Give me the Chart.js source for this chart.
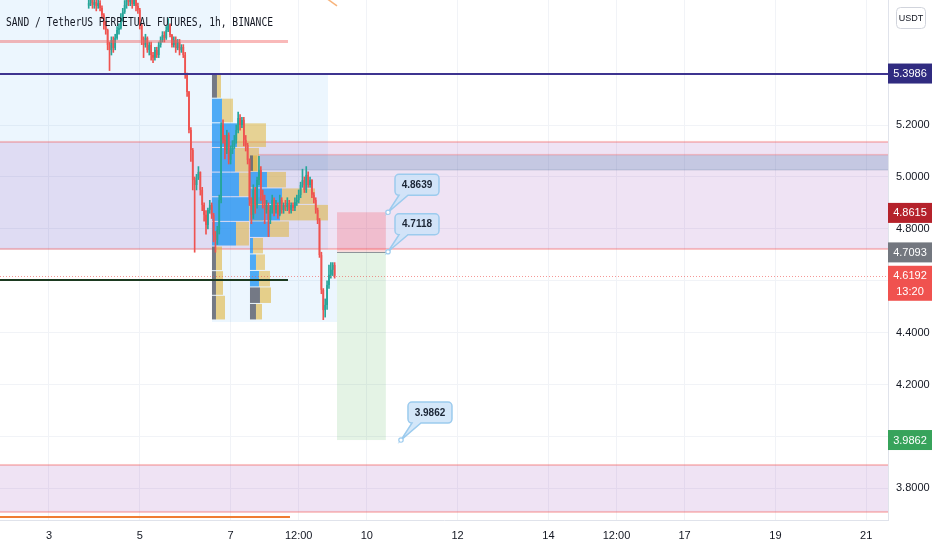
<!DOCTYPE html>
<html>
<head>
<meta charset="utf-8">
<script src="https://cdn.jsdelivr.net/npm/chart.js@4.4.0/dist/chart.umd.min.js"></script>
<style>
html, body { margin: 0; padding: 0; background: #fff; }
canvas { display: block; }
</style>
</head>
<body>
<canvas id="chart" width="932" height="550"></canvas>
<script>
// SAND/USDT perp, 1h candles, day-of-month on the x axis
var FIRST_CANDLE = 3.875   // day 3, 21:00
var FIRST_OPEN = 5.660

var closes = [
    5.670,5.682,5.663,5.674,5.659,5.670,5.651,5.624,5.586,5.566,
    5.509,5.489,5.528,5.497,5.536,5.566,5.574,5.613,5.636,5.663,
    5.682,5.674,5.690,5.667,5.682,5.659,5.644,5.586,5.528,5.509,
    5.536,5.489,5.509,5.470,5.459,5.489,5.470,5.509,5.528,5.547,
    5.536,5.566,5.586,5.547,5.509,5.528,5.497,5.520,5.489,5.501,
    5.470,5.393,5.327,5.181,5.104,4.988,4.969,4.996,5.019,4.950,
    4.892,4.854,4.815,4.873,4.892,4.854,4.776,4.757,4.796,4.911,
    5.200,5.143,5.104,5.162,5.066,5.104,5.123,5.143,5.181,5.227,
    5.200,5.220,5.143,5.123,5.066,4.911,4.854,4.950,4.892,4.988,
    5.027,4.931,4.911,4.873,4.892,4.834,4.873,4.911,4.873,4.892,
    4.854,4.911,4.873,4.892,4.884,4.900,4.873,4.892,4.880,4.904,
    4.911,4.931,4.969,4.988,4.950,5.008,4.969,4.988,4.931,4.911,
    4.873,4.834,4.699,4.565,4.487,4.507,4.584,4.623,4.642,4.661,
    4.6192
]
var highs = [
    5.70,5.71,5.70,5.69,5.69,5.69,5.68,5.66,5.63,5.60,
    5.57,5.52,5.54,5.54,5.55,5.58,5.59,5.63,5.65,5.68,
    5.70,5.71,5.72,5.70,5.70,5.69,5.67,5.65,5.59,5.54,
    5.55,5.54,5.52,5.52,5.48,5.50,5.50,5.52,5.54,5.56,
    5.56,5.58,5.61,5.59,5.55,5.54,5.54,5.53,5.53,5.51,
    5.51,5.48,5.40,5.33,5.19,5.11,5.00,5.01,5.04,5.02,
    4.96,4.90,4.87,4.88,4.91,4.90,4.86,4.79,4.81,4.93,
    5.21,5.22,5.16,5.18,5.17,5.12,5.14,5.16,5.20,5.25,
    5.24,5.23,5.23,5.16,5.13,5.07,4.92,4.97,4.96,5.00,
    5.08,5.04,4.95,4.93,4.91,4.90,4.89,4.93,4.92,4.91,
    4.90,4.93,4.92,4.90,4.91,4.92,4.91,4.90,4.90,4.92,
    4.93,4.95,4.98,5.03,5.00,5.04,5.02,5.00,4.99,4.94,
    4.92,4.88,4.84,4.71,4.57,4.53,4.60,4.66,4.67,4.67,
    4.67
]
var lows = [
    5.65,5.66,5.65,5.65,5.64,5.65,5.64,5.61,5.57,5.55,
    5.49,5.41,5.47,5.48,5.49,5.53,5.55,5.57,5.60,5.63,
    5.65,5.66,5.66,5.65,5.66,5.64,5.63,5.57,5.51,5.46,
    5.50,5.48,5.47,5.45,5.44,5.45,5.46,5.46,5.50,5.52,
    5.52,5.53,5.56,5.54,5.50,5.50,5.48,5.49,5.47,5.48,
    5.46,5.38,5.31,5.17,5.06,4.95,4.71,4.95,4.99,4.93,
    4.87,4.83,4.78,4.80,4.86,4.84,4.75,4.71,4.74,4.78,
    4.90,5.13,5.07,5.09,5.05,5.05,5.09,5.11,5.13,5.17,
    5.18,5.19,5.12,5.10,5.05,4.89,4.82,4.84,4.86,4.88,
    4.97,4.91,4.88,4.82,4.86,4.77,4.82,4.86,4.85,4.86,
    4.84,4.85,4.86,4.86,4.87,4.87,4.86,4.86,4.87,4.87,
    4.89,4.90,4.92,4.96,4.94,4.94,4.96,4.96,4.92,4.90,
    4.86,4.82,4.69,4.55,4.45,4.46,4.49,4.57,4.61,4.62,
    4.61
]

// axes
var xTickDays = [3, 5, 7, 8.5, 10, 12, 14, 15.5, 17, 19, 21]
var xTickLabels = ['3', '5', '7', '12:00', '10', '12', '14', '12:00', '17', '19', '21']
var yTicks = [3.8, 4.0, 4.2, 4.4, 4.6, 4.8, 5.0, 5.2, 5.4]

// volume profiles (top price, bottom price, anchor day, rows from top)
var vp1Range = [5.3986, 4.449]
var vp1Start = 6.590
var vp1Up = [5, 10, 25, 23, 27, 37, 24, 4, 4, 4]
var vp1Down = [4, 11, 29, 24, 12, 14, 13, 6, 7, 9]
var vp1InVA = [0, 1, 1, 1, 1, 1, 1, 0, 0, 0]

var vp2Range = [5.085, 4.449]
var vp2Start = 7.427
var vp2Up = [3, 17, 32, 30, 20, 3, 6, 9, 10, 6]
var vp2Down = [4, 19, 33, 48, 19, 10, 9, 11, 11, 6]
var vp2InVA = [0, 1, 1, 1, 1, 1, 1, 1, 0, 0]

// drawings: [dayFrom, dayTo, priceTop, priceBottom]
var rangeShades = [[1.9, 6.767, 5.72, 5.393], [1.9, 9.145, 5.393, 4.719], [6.590, 9.344, 4.719, 4.441]]
var zones = [[5.135, 4.7225], [3.890, 3.709]]
var steelBox = [7.603, 22, 5.085, 5.027]

var position = { from: 9.344, to: 10.42, stop: 4.8639, entry: 4.7118, target: 3.9862 }
var callouts = [[10.467, 4.8639], [10.467, 4.7118], [10.753, 3.9862]]

var level = 5.3986
var lastPrice = 4.6192
var pinkLine = [8.264, 5.524]
var darkLine = [8.264, 4.603]
var orangeLine = [8.308, 3.690]
var orangeRay = [[9.10, 5.69], [9.344, 5.659]]

var tags = [
    { price: 5.3986, text: '5.3986', color: '#302b80' },
    { price: 4.8615, text: '4.8615', color: '#b5222b' },
    { price: 4.7093, text: '4.7093', color: '#73777f' },
    { price: 4.6192, text: '4.6192', sub: '13:20', color: '#f0524f' },
    { price: 3.9862, text: '3.9862', color: '#37a35b' },
]

var TITLE = 'SAND / TetherUS PERPETUAL FUTURES, 1h, BINANCE'
var UP = '#26a69a'
var DOWN = '#ef5350'
var FONT = '"Liberation Sans", "DejaVu Sans", sans-serif'
var VP_DAYS_PER_UNIT = 1 / 45.4

var times = closes.map(function(c, i){ return FIRST_CANDLE + i / 24 })
var opens = closes.map(function(c, i){ return i === 0 ? FIRST_OPEN : closes[i - 1] })
var candleColors = closes.map(function(c, i){ return c >= opens[i] ? UP : DOWN })
var wickData = times.map(function(t, i){ return { x: t, y: [lows[i], highs[i]] } })
var bodyData = times.map(function(t, i){ return { x: t, y: [opens[i], closes[i]] } })

function box(ctx, xs, ys, d1, d2, p1, p2){
    var x1 = xs.getPixelForValue(d1), x2 = xs.getPixelForValue(d2)
    var y1 = ys.getPixelForValue(p1), y2 = ys.getPixelForValue(p2)
    return [Math.min(x1, x2), Math.min(y1, y2), Math.abs(x2 - x1), Math.abs(y2 - y1)]
}

function drawProfile(ctx, xs, ys, range, start, up, down, inVA){
    var n = up.length
    var step = (range[0] - range[1]) / n
    for (var k = 0; k < n; k++){
        var pTop = range[0] - k * step
        var yTop = ys.getPixelForValue(pTop)
        var yBot = ys.getPixelForValue(pTop - step)
        var x0 = xs.getPixelForValue(start)
        var x1 = xs.getPixelForValue(start + up[k] * VP_DAYS_PER_UNIT)
        var x2 = xs.getPixelForValue(start + (up[k] + down[k]) * VP_DAYS_PER_UNIT)
        ctx.fillStyle = inVA[k] ? 'rgba(33,150,243,0.78)' : 'rgba(95,100,112,0.85)'
        ctx.fillRect(x0, yTop + 0.5, x1 - x0, yBot - yTop - 1)
        ctx.fillStyle = inVA[k] ? 'rgba(224,180,60,0.55)' : 'rgba(224,180,60,0.6)'
        ctx.fillRect(x1, yTop + 0.5, x2 - x1, yBot - yTop - 1)
    }
}

function hLine(ctx, xs, ys, d1, d2, price, color, width, dash){
    var yy = Math.round(ys.getPixelForValue(price)) + (width % 2 ? 0.5 : 0)
    ctx.save()
    ctx.strokeStyle = color
    ctx.lineWidth = width
    ctx.setLineDash(dash || [])
    ctx.beginPath()
    ctx.moveTo(xs.getPixelForValue(d1), yy)
    ctx.lineTo(xs.getPixelForValue(d2), yy)
    ctx.stroke()
    ctx.restore()
}

function drawCallout(ctx, ax, ay, text){
    var w = 44, h = 21, r = 4
    var bx = ax + 7, by = ay - 38
    ctx.save()
    ctx.beginPath()
    ctx.moveTo(bx + r, by)
    ctx.lineTo(bx + w - r, by)
    ctx.arcTo(bx + w, by, bx + w, by + r, r)
    ctx.lineTo(bx + w, by + h - r)
    ctx.arcTo(bx + w, by + h, bx + w - r, by + h, r)
    ctx.lineTo(bx + 13, by + h)
    ctx.lineTo(ax, ay)
    ctx.lineTo(bx + 4, by + h)
    ctx.arcTo(bx, by + h, bx, by + h - r, r)
    ctx.lineTo(bx, by + r)
    ctx.arcTo(bx, by, bx + r, by, r)
    ctx.closePath()
    ctx.fillStyle = 'rgba(205,227,248,0.85)'
    ctx.fill()
    ctx.strokeStyle = '#9ccbee'
    ctx.lineWidth = 1.5
    ctx.stroke()
    ctx.beginPath()
    ctx.arc(ax, ay, 2.2, 0, Math.PI * 2)
    ctx.fillStyle = '#ffffff'
    ctx.fill()
    ctx.strokeStyle = '#9ccbee'
    ctx.lineWidth = 1.2
    ctx.stroke()
    ctx.fillStyle = '#1b2535'
    ctx.font = 'bold 10px ' + FONT
    ctx.textAlign = 'center'
    ctx.textBaseline = 'middle'
    ctx.fillText(text, bx + w / 2, by + h / 2 + 0.5)
    ctx.restore()
}

var drawings = {
    id: 'drawings',
    beforeDatasetsDraw: function(chart){
        var ctx = chart.ctx, a = chart.chartArea
        var xs = chart.scales.x, ys = chart.scales.y
        ctx.save()
        ctx.beginPath()
        ctx.rect(a.left, a.top, a.right - a.left, a.bottom - a.top)
        ctx.clip()

        ctx.fillStyle = 'rgba(33,150,243,0.085)'
        rangeShades.forEach(function(r){
            var b = box(ctx, xs, ys, r[0], r[1], r[2], r[3])
            ctx.fillRect(b[0], b[1], b[2], b[3])
        })

        zones.forEach(function(z){
            var y1 = ys.getPixelForValue(z[0]), y2 = ys.getPixelForValue(z[1])
            ctx.fillStyle = 'rgba(150,70,180,0.15)'
            ctx.fillRect(a.left, y1, a.right - a.left, y2 - y1)
            ctx.fillStyle = 'rgba(242,100,100,0.38)'
            ctx.fillRect(a.left, y1 - 1, a.right - a.left, 2)
            ctx.fillRect(a.left, y2 - 1, a.right - a.left, 2)
        })

        var sb = box(ctx, xs, ys, steelBox[0], steelBox[1], steelBox[2], steelBox[3])
        ctx.fillStyle = 'rgba(70,120,170,0.25)'
        ctx.fillRect(sb[0], sb[1], sb[2], sb[3])
        ctx.fillStyle = 'rgba(242,100,100,0.35)'
        ctx.fillRect(sb[0], sb[1] - 1, sb[2], 1.5)
        ctx.fillStyle = 'rgba(120,140,170,0.35)'
        ctx.fillRect(sb[0], sb[1] + sb[3] - 0.5, sb[2], 1)

        drawProfile(ctx, xs, ys, vp1Range, vp1Start, vp1Up, vp1Down, vp1InVA)
        drawProfile(ctx, xs, ys, vp2Range, vp2Start, vp2Up, vp2Down, vp2InVA)

        var rb = box(ctx, xs, ys, position.from, position.to, position.stop, position.entry)
        ctx.fillStyle = 'rgba(242,54,69,0.22)'
        ctx.fillRect(rb[0], rb[1], rb[2], rb[3])
        var gb = box(ctx, xs, ys, position.from, position.to, position.entry, position.target)
        ctx.fillStyle = 'rgba(76,175,80,0.15)'
        ctx.fillRect(gb[0], gb[1], gb[2], gb[3])
        hLine(ctx, xs, ys, position.from, position.to, position.entry, 'rgba(120,123,134,0.8)', 1)
        ctx.restore()
    },
    afterDatasetsDraw: function(chart){
        var ctx = chart.ctx, a = chart.chartArea
        var xs = chart.scales.x, ys = chart.scales.y
        ctx.save()
        ctx.beginPath()
        ctx.rect(a.left, a.top, a.right - a.left, a.bottom - a.top)
        ctx.clip()
        hLine(ctx, xs, ys, xs.min, pinkLine[0], pinkLine[1], 'rgba(242,100,100,0.45)', 3)
        hLine(ctx, xs, ys, xs.min, xs.max, level, '#3e3490', 2)
        hLine(ctx, xs, ys, xs.min, darkLine[0], darkLine[1], '#1c3a20', 2)
        hLine(ctx, xs, ys, xs.min, orangeLine[0], orangeLine[1], '#ef7d32', 2)
        hLine(ctx, xs, ys, xs.min, xs.max, lastPrice, 'rgba(239,83,80,0.6)', 1, [1, 2])

        ctx.strokeStyle = 'rgba(245,160,90,0.8)'
        ctx.lineWidth = 1.5
        ctx.beginPath()
        ctx.moveTo(xs.getPixelForValue(orangeRay[0][0]), ys.getPixelForValue(orangeRay[0][1]))
        ctx.lineTo(xs.getPixelForValue(orangeRay[1][0]), ys.getPixelForValue(orangeRay[1][1]))
        ctx.stroke()

        callouts.forEach(function(c){
            drawCallout(ctx, xs.getPixelForValue(c[0]), ys.getPixelForValue(c[1]), c[1].toFixed(4))
        })

        // symbol title, squeezed like the screenshot
        ctx.font = '13px "DejaVu Sans Mono", monospace'
        ctx.fillStyle = '#131722'
        ctx.textBaseline = 'alphabetic'
        var sx = 267 / ctx.measureText(TITLE).width
        ctx.translate(6, 26)
        ctx.scale(sx, 1)
        ctx.fillText(TITLE, 0, 0)
        ctx.restore()
    },
    afterDraw: function(chart){
        var ctx = chart.ctx, a = chart.chartArea
        var ys = chart.scales.y
        var left = a.right, w = chart.width - a.right
        ctx.save()
        ctx.textAlign = 'center'
        ctx.textBaseline = 'middle'
        tags.forEach(function(t){
            var yy = ys.getPixelForValue(t.price)
            var h = t.sub ? 35 : 20
            ctx.fillStyle = t.color
            ctx.fillRect(left, yy - 10, w, h)
            ctx.fillStyle = '#ffffff'
            ctx.font = '11px ' + FONT
            ctx.fillText(t.text, left + w / 2, yy + 0.5)
            if (t.sub) ctx.fillText(t.sub, left + w / 2, yy + 16)
        })

        ctx.beginPath()
        if (ctx.roundRect) ctx.roundRect(left + 8.5, 7.5, 29, 21, 4)
        else ctx.rect(left + 8.5, 7.5, 29, 21)
        ctx.fillStyle = '#ffffff'
        ctx.fill()
        ctx.strokeStyle = '#d1d4dc'
        ctx.lineWidth = 1
        ctx.stroke()
        ctx.fillStyle = '#131722'
        ctx.font = '9px ' + FONT
        ctx.fillText('USDT', left + 23, 18.5)
        ctx.restore()
    }
}

Chart.defaults.font.family = FONT
Chart.defaults.color = '#131722'

new Chart(document.getElementById('chart'), {
    type: 'bar',
    data: {
        datasets: [
            { data: wickData, backgroundColor: candleColors, barThickness: 1, grouped: false, order: 2 },
            { data: bodyData, backgroundColor: candleColors, barPercentage: 0.9, categoryPercentage: 1,
              grouped: false, minBarLength: 1, order: 1 },
        ]
    },
    options: {
        responsive: false,
        devicePixelRatio: 1,
        animation: false,
        layout: { padding: 0 },
        plugins: { legend: { display: false }, tooltip: { enabled: false }, title: { display: false } },
        scales: {
            x: {
                type: 'linear',
                min: 1.921,
                max: 21.48,
                offset: false,
                grid: { color: '#f1f3f7', drawTicks: false, offset: false },
                border: { color: '#e0e3eb' },
                ticks: {
                    padding: 9,
                    font: { size: 11 },
                    maxRotation: 0,
                    autoSkip: false,
                    callback: function(v){ return xTickLabels[xTickDays.indexOf(v)] }
                },
                afterBuildTicks: function(axis){ axis.ticks = xTickDays.map(function(v){ return { value: v } }) },
                afterFit: function(axis){
                    axis.height = 30
                    axis.paddingLeft = 0
                    axis.paddingRight = 0
                }
            },
            y: {
                type: 'linear',
                position: 'right',
                min: 3.678,
                max: 5.682,
                grid: { color: '#f1f3f7', drawTicks: false },
                border: { color: '#e0e3eb' },
                ticks: {
                    padding: 8,
                    font: { size: 11 },
                    callback: function(v){ return v.toFixed(4) }
                },
                afterBuildTicks: function(axis){ axis.ticks = yTicks.map(function(v){ return { value: v } }) },
                afterFit: function(axis){
                    axis.width = 44
                    axis.paddingTop = 0
                    axis.paddingBottom = 0
                }
            }
        }
    },
    plugins: [drawings]
})
</script>
</body>
</html>
